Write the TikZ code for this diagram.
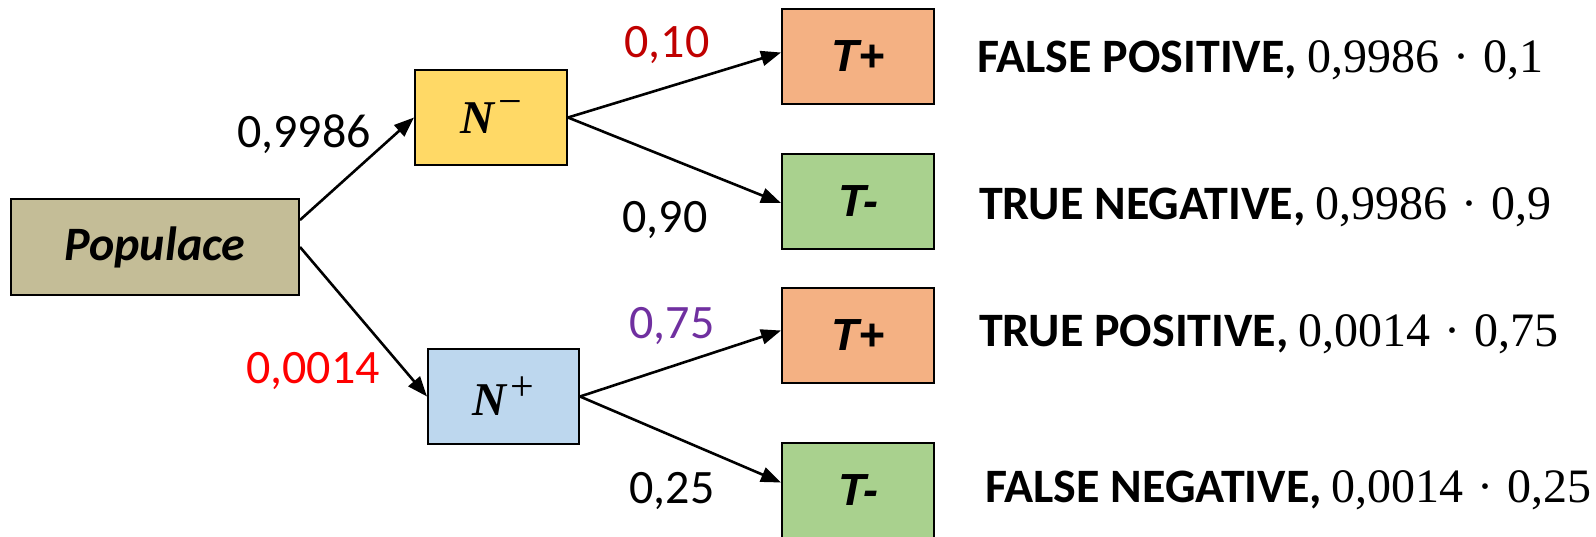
\documentclass[tikz,border=0pt]{standalone}
\usepackage{fontspec}
\usetikzlibrary{arrows.meta}
\newfontfamily\calibrifont{Carlito}
\newfontfamily\arialfont{Liberation Sans}
\newfontfamily\numfont{Liberation Serif}

\definecolor{popfill}{HTML}{C4BD97}
\definecolor{negfill}{HTML}{FFD966}
\definecolor{posfill}{HTML}{BDD7EE}
\definecolor{tposfill}{HTML}{F4B183}
\definecolor{tnegfill}{HTML}{A9D18E}
\definecolor{darkred}{HTML}{C00000}
\definecolor{brightred}{HTML}{FF0000}
\definecolor{violet}{HTML}{7030A0}

% superscript sign after a bold italic letter: #1 = raise, #2 = sign
\newcommand{\signsup}[2]{\hspace{4pt}\raisebox{#1}{\numfont\mdseries\upshape\fontsize{42}{46}\selectfont #2}}
% product of two probabilities
\newcommand{\prodof}[2]{{\numfont\mdseries\fontsize{48}{56}\selectfont #1\hspace{14pt}·\hspace{14pt}#2}}

\tikzset{
  box/.style={draw=black, line width=2pt, inner sep=0pt,
    minimum width=152pt, minimum height=95pt},
  branch/.style={draw=black, line width=2.6pt,
    -{Triangle[length=20pt,width=15pt]}},
  prob/.style={anchor=base, inner sep=0pt,
    font=\calibrifont\fontsize{48}{58}\selectfont},
  outcome/.style={anchor=base west, inner sep=0pt,
    font=\calibrifont\bfseries\fontsize{48}{56}\selectfont},
  testlbl/.style={font=\arialfont\bfseries\itshape\fontsize{45}{54}\selectfont},
  nlbl/.style={font=\numfont\bfseries\itshape\fontsize{47}{52}\selectfont},
}

\begin{document}
\begin{tikzpicture}[x=1pt,y=-1pt]
\useasboundingbox (0,0) rectangle (1596,536);

% tree nodes
\node[box, fill=popfill, minimum width=288pt, minimum height=96pt,
      font=\calibrifont\bfseries\itshape\fontsize{48}{56}\selectfont]
  (pop) at (155,247) {Populace};
\node[box, fill=negfill, nlbl] (nneg) at (491,117.5) {N\signsup{18pt}{\char"2212}};
\node[box, fill=posfill, minimum width=151pt, nlbl]
  (npos) at (503.5,396.5) {N\signsup{15pt}{+}};
\node[box, fill=tposfill, testlbl] (tp1) at (858,56.5) {T+};
\node[box, fill=tnegfill, testlbl] (tn1) at (858,201) {T-};
\node[box, fill=tposfill, testlbl] (tp2) at (858,335.5) {T+};
\node[box, fill=tnegfill, testlbl] (tn2) at (858,490.5) {T-};

% branches
\draw[branch] ([yshift=27pt]pop.east) -- (nneg.west);
\draw[branch] (pop.east) -- (npos.west);
\draw[branch] (nneg.east) -- ([yshift=4pt]tp1.west);
\draw[branch] (nneg.east) -- ([yshift=-2pt]tn1.west);
\draw[branch] (npos.east) -- ([yshift=5pt]tp2.west);
\draw[branch] (npos.east) -- ([yshift=8pt]tn2.west);

% branch probabilities
\node[prob] (p1) at (304,147) {0,9986};
\node[prob, text=brightred] (p2) at (313,383) {0,0014};
\node[prob, text=darkred] (p3) at (667,57) {0,10};
\node[prob] (p4) at (665,232) {0,90};
\node[prob, text=violet] (p5) at (672,338) {0,75};
\node[prob] (p6) at (672,503) {0,25};

% outcomes
\node[outcome] (o1) at (977,72)
  {FALSE POSITIVE,\hspace{10pt}\prodof{0,9986}{0,1}};
\node[outcome] (o2) at (979,219)
  {TRUE NEGATIVE,\hspace{10pt}\prodof{0,9986}{0,9}};
\node[outcome] (o3) at (979,346)
  {TRUE POSITIVE,\hspace{10pt}\prodof{0,0014}{0,75}};
\node[outcome] (o4) at (985,502)
  {FALSE NEGATIVE,\hspace{10pt}\prodof{0,0014}{0,25}};
\end{tikzpicture}
\end{document}
